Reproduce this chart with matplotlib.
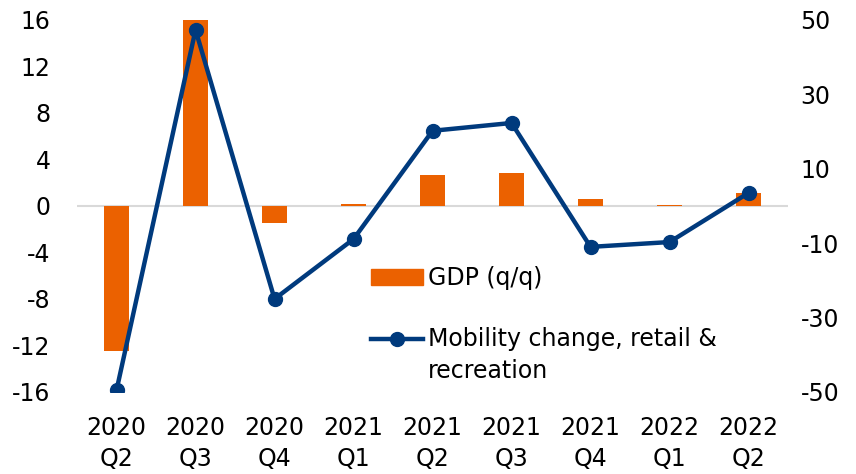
import numpy as np
import matplotlib.pyplot as plt
from matplotlib.patches import Patch
from matplotlib.lines import Line2D
from matplotlib.legend_handler import HandlerLine2D

plt.rcParams['font.family'] = ['DejaVu Sans']
plt.rcParams['axes.unicode_minus'] = False

quarters = ["2020\nQ2", "2020\nQ3", "2020\nQ4", "2021\nQ1", "2021\nQ2",
            "2021\nQ3", "2021\nQ4", "2022\nQ1", "2022\nQ2"]
gdp_qq = [-12.5, 16.0, -1.5, 0.2, 2.7, 2.8, 0.6, 0.1, 1.1]
mobility = [-49.5, 47.3, -25.0, -8.9, 20.2, 22.3, -11.0, -9.7, 3.5]
left_ticks = [16, 12, 8, 4, 0, -4, -8, -12, -16]
right_ticks = [50, 30, 10, -10, -30, -50]

orange = "#EB6100"
navy = "#003A7D"
fs = 17


class FirstLineHandler(HandlerLine2D):
    # put the line handle next to the first row of a two-row label
    def create_artists(self, legend, orig_handle, xdescent, ydescent,
                       width, height, fontsize, trans):
        arts = super().create_artists(legend, orig_handle, xdescent, ydescent,
                                      width, height, fontsize, trans)
        for a in arts:
            a.set_ydata(np.asarray(a.get_ydata()) + 0.7 * fontsize)
        return arts


fig = plt.figure(figsize=(8.56, 4.74), dpi=100)
ax = fig.add_axes([0.09, 0.173, 0.8306, 0.785])
x = np.arange(len(quarters))

ax.bar(x, gdp_qq, width=0.32, color=orange, zorder=2)
ax.axhline(0, color="#D9D9D9", lw=1.5, zorder=1)
ax.set_ylim(-16, 16)
ax.set_yticks(left_ticks)
ax.set_xlim(-0.5, len(quarters) - 0.5)
ax.set_xticks(x)
ax.set_xticklabels(quarters, linespacing=1.4)

ax2 = ax.twinx()
ax2.plot(x, mobility, color=navy, lw=3.2, marker="o", ms=10, zorder=3)
ax2.set_ylim(-50, 50)
ax2.set_yticks(right_ticks)

for a in (ax, ax2):
    for s in a.spines.values():
        s.set_visible(False)
    a.tick_params(length=0, labelsize=fs, colors="#000000")
ax.tick_params(axis="y", pad=19)
ax.tick_params(axis="x", pad=17)
ax2.tick_params(axis="y", pad=9)

mob_handle = Line2D([], [], color=navy, lw=3.2, marker="o", ms=10)
handles = [Patch(color=orange), mob_handle]
labels = ["GDP (q/q)", "Mobility change, retail &\nrecreation"]
leg = ax2.legend(handles, labels, loc="upper left", bbox_to_anchor=(0.4, 0.363),
                 frameon=False, fontsize=fs, handlelength=2.2, handletextpad=0.2,
                 labelspacing=1.55, borderaxespad=0,
                 handler_map={mob_handle: FirstLineHandler()})
for t in leg.get_texts():
    t.set_linespacing(1.4)

fig.savefig("out.png", dpi=100)
